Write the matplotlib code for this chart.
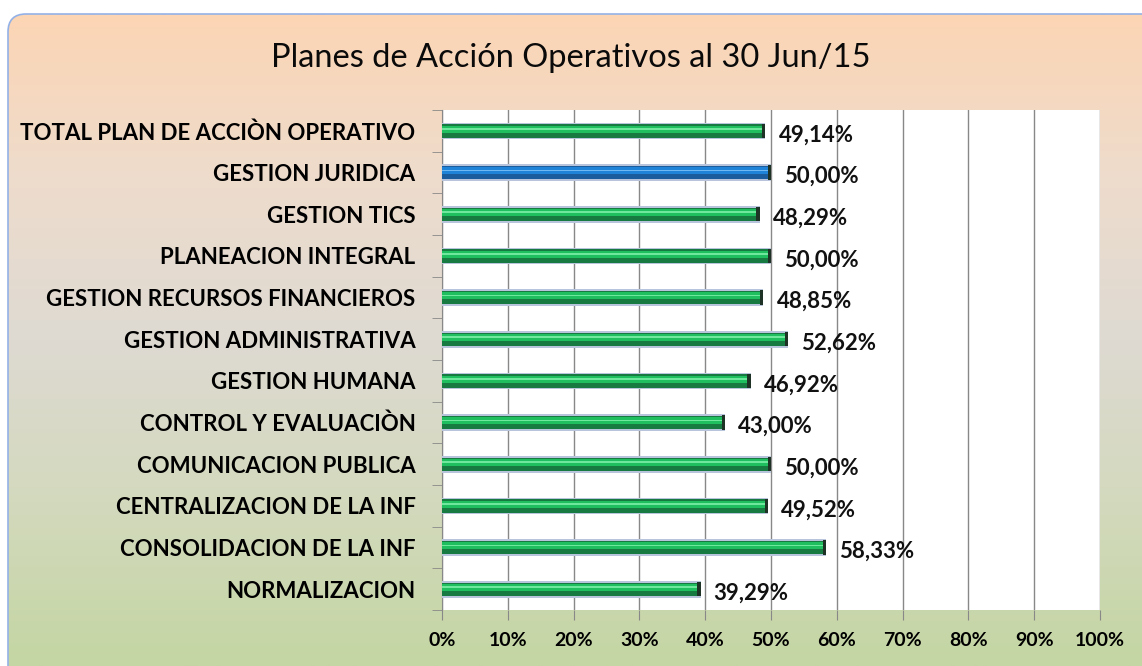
import numpy as np
import matplotlib.pyplot as plt
from matplotlib.patches import FancyBboxPatch
from matplotlib.colors import LinearSegmentedColormap

# ------------------------------- Data --------------------------------
categories = ['TOTAL PLAN DE ACCIÒN OPERATIVO', 'GESTION JURIDICA', 'GESTION TICS',
              'PLANEACION INTEGRAL', 'GESTION RECURSOS FINANCIEROS', 'GESTION ADMINISTRATIVA',
              'GESTION HUMANA', 'CONTROL Y EVALUACIÒN', 'COMUNICACION PUBLICA',
              'CENTRALIZACION DE LA INF', 'CONSOLIDACION DE LA INF', 'NORMALIZACION']
values = [49.14, 50.00, 48.29, 50.00, 48.85, 52.62, 46.92, 43.00, 50.00, 49.52, 58.33, 39.29]
highlight = [False, True, False, False, False, False, False, False, False, False, False, False]
x_ticks = [0, 10, 20, 30, 40, 50, 60, 70, 80, 90, 100]
title = 'Planes de Acción Operativos al 30 Jun/15'

plt.rcParams['font.family'] = ['Lato', 'DejaVu Sans']

fig = plt.figure(figsize=(11.42, 6.66), dpi=100)

# ------------------------- Background panel --------------------------
bg = fig.add_axes([0, 0, 1, 1])
bg.set_xlim(0, 1142)
bg.set_ylim(666, 0)
bg.axis('off')
cmap = LinearSegmentedColormap.from_list('bg', ['#fcd5b4', '#eedccc', '#dedad2', '#d3d9bd', '#c4d6a3'])
grad = np.linspace(0, 1, 256).reshape(-1, 1)
panel = FancyBboxPatch((8, 14), 1160, 700, boxstyle='round,pad=0,rounding_size=18',
                       facecolor='none', edgecolor='#93b1e6', linewidth=1.2, zorder=2)
bg.add_patch(panel)
im = bg.imshow(grad, cmap=cmap, aspect='auto', extent=(8, 1168, 666, 14), zorder=1)
im.set_clip_path(panel)

fig.text(0.5, 1 - 58 / 666, title, ha='center', va='center', fontsize=23.5, color='#0a0a0a')

# ------------------------------ Bars ---------------------------------
ax = fig.add_axes([442 / 1142, 1 - 610 / 666, 658 / 1142, 500 / 666])
ax.set_facecolor('white')
y = np.arange(len(categories))

dark = ['#1b5d9c' if h else '#177a40' for h in highlight]
mid = ['#1f84d8' if h else '#1fbf5f' for h in highlight]
light = ['#70b8f2' if h else '#6fe79c' for h in highlight]

ax.barh(y, values, height=0.40, color='#b7c4dc', zorder=3)
ax.barh(y, values, height=0.32, color=dark, zorder=4)
ax.barh(y - 0.04, values, height=0.17, color=mid, zorder=5)
ax.barh(y - 0.05, values, height=0.04, color=light, zorder=6)
ax.barh(y, [0.5] * len(values), left=np.array(values) - 0.5, height=0.34, color='#1e3326', zorder=7)

for yi, v in zip(y, values):
    ax.text(v + 2.0, yi + 0.1, f'{v:.2f}%'.replace('.', ','), va='center', ha='left',
            fontsize=16, fontweight='bold', color='#111111')

ax.set_xlim(0, 100)
ax.set_ylim(len(categories) - 0.5, -0.5)
ax.set_xticks(x_ticks)
ax.set_xticklabels([f'{t}%' for t in x_ticks], fontsize=14, fontweight='bold')
ax.set_yticks(y)
ax.set_yticklabels(categories, fontsize=16, fontweight='bold')
ax.set_yticks(np.arange(-0.5, len(categories)), minor=True)
ax.tick_params(axis='y', which='major', length=0, pad=19)
ax.tick_params(axis='y', which='minor', length=7, color='#888888', direction='out')
ax.tick_params(axis='x', length=7, color='#888888', pad=9)
ax.grid(axis='x', color='#888888', linewidth=1, zorder=0)
ax.set_axisbelow(True)
for s in ['top', 'right', 'bottom']:
    ax.spines[s].set_visible(False)
ax.spines['left'].set_color('#888888')

fig.savefig('out.png', dpi=100)
